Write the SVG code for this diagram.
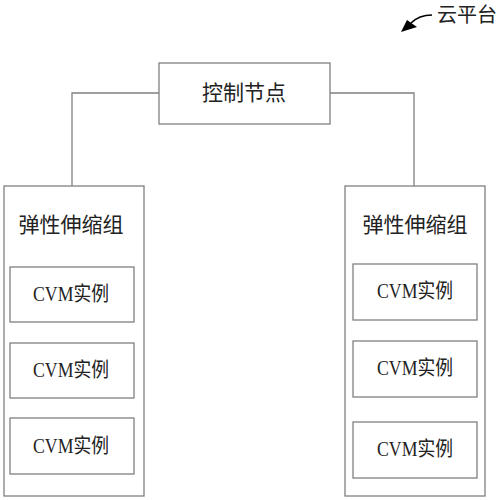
<svg xmlns="http://www.w3.org/2000/svg" width="503" height="500" viewBox="0 0 503 500">
<defs>
<style>
.box{fill:#fff;stroke:#808080;stroke-width:1.3}
.line{fill:none;stroke:#808080;stroke-width:1.3}
.t{font-family:"Liberation Serif","Noto Sans CJK SC",serif;font-size:21px;fill:#222;text-anchor:middle;dominant-baseline:central}
.cvm{font-family:"Liberation Serif","Noto Sans CJK SC",serif;font-size:20px;fill:#222;text-anchor:middle;dominant-baseline:central}
</style>
</defs>
<rect width="503" height="500" fill="#fff"/>
<g id="cloud-label">
<path d="M432,15 C424,15 417,17 411,23" fill="none" stroke="#000" stroke-width="1.6"/>
<polygon points="401,32 407,20 417,27" fill="#000"/>
<text class="t" x="467" y="15" style="font-size:20px">云平台</text>
</g>
<g id="connectors">
<polyline class="line" points="159,93 72,93 72,186"/>
<polyline class="line" points="330,93 414,93 414,186"/>
</g>
<g id="control-node">
<rect class="box" x="159" y="63" width="171" height="61"/>
<text class="t" x="244" y="93">控制节点</text>
</g>
<g id="group-left">
<rect class="box" x="4" y="186" width="140" height="310"/>
<text class="t" x="71" y="225">弹性伸缩组</text>
<g id="cvm-l1"><rect class="box" x="10" y="267" width="124" height="55"/><text class="cvm" x="71" y="294" textLength="76" lengthAdjust="spacingAndGlyphs">CVM实例</text></g>
<g id="cvm-l2"><rect class="box" x="10" y="343" width="124" height="55"/><text class="cvm" x="71" y="370" textLength="76" lengthAdjust="spacingAndGlyphs">CVM实例</text></g>
<g id="cvm-l3"><rect class="box" x="10" y="418" width="124" height="56"/><text class="cvm" x="71" y="446" textLength="76" lengthAdjust="spacingAndGlyphs">CVM实例</text></g>
</g>
<g id="group-right">
<rect class="box" x="345" y="186" width="140" height="310"/>
<text class="t" x="415" y="225">弹性伸缩组</text>
<g id="cvm-r1"><rect class="box" x="353" y="264" width="124" height="56"/><text class="cvm" x="415" y="291" textLength="76" lengthAdjust="spacingAndGlyphs">CVM实例</text></g>
<g id="cvm-r2"><rect class="box" x="353" y="341" width="124" height="56"/><text class="cvm" x="415" y="368" textLength="76" lengthAdjust="spacingAndGlyphs">CVM实例</text></g>
<g id="cvm-r3"><rect class="box" x="353" y="422" width="124" height="56"/><text class="cvm" x="415" y="449" textLength="76" lengthAdjust="spacingAndGlyphs">CVM实例</text></g>
</g>
</svg>
